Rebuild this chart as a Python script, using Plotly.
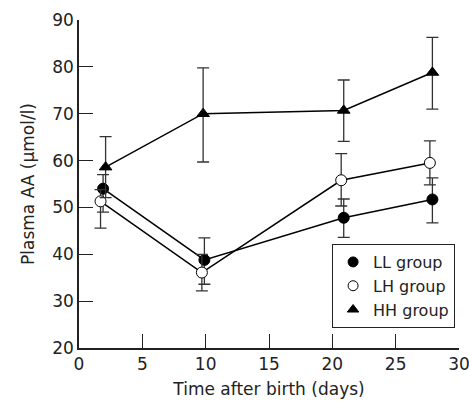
import plotly.graph_objects as go

# Data
days_ll = [1.9, 9.9, 20.9, 27.9]
ll_mean = [54.0, 38.8, 47.8, 51.7]
ll_err_plus = [3.0, 4.7, 4.0, 4.6]
ll_err_minus = [5.0, 5.2, 4.2, 5.0]

days_lh = [1.7, 9.7, 20.7, 27.7]
lh_mean = [51.3, 36.1, 55.8, 59.5]
lh_err_plus = [2.5, 3.9, 5.7, 4.7]
lh_err_minus = [5.7, 3.9, 5.5, 4.7]

days_hh = [2.1, 9.8, 20.9, 27.9]
hh_mean = [58.6, 70.0, 70.7, 78.8]
hh_err_plus = [6.5, 9.8, 6.5, 7.5]
hh_err_minus = [6.5, 10.3, 6.6, 7.8]

group_names = ["LL group", "LH group", "HH group"]
x_ticks = [0, 5, 10, 15, 20, 25, 30]
y_ticks = [20, 30, 40, 50, 60, 70, 80, 90]

FONT = "DejaVu Sans"
fig = go.Figure()

series = [
    (days_ll, ll_mean, ll_err_plus, ll_err_minus, "circle", "black"),
    (days_lh, lh_mean, lh_err_plus, lh_err_minus, "circle", "white"),
    (days_hh, hh_mean, hh_err_plus, hh_err_minus, "triangle-up", "black"),
]

for (xs, ys, ep, em, sym, fill), name in zip(series, group_names):
    fig.add_trace(go.Scatter(
        x=xs, y=ys, mode="lines+markers", showlegend=False, cliponaxis=False,
        line=dict(color="black", width=1.5),
        marker=dict(symbol=sym, size=11, color=fill, line=dict(color="black", width=1)),
        error_y=dict(type="data", array=ep, arrayminus=em, symmetric=False,
                     color="#333", thickness=1.3, width=6),
    ))

for (xs, ys, ep, em, sym, fill), name in zip(series, group_names):
    fig.add_trace(go.Scatter(
        x=[None], y=[None], mode="markers", name=name,
        marker=dict(symbol=sym, size=10, color=fill, line=dict(color="black", width=1)),
    ))

fig.update_layout(
    width=469, height=402,
    margin=dict(l=79, r=10, t=20, b=54),
    paper_bgcolor="white", plot_bgcolor="white",
    font=dict(family=FONT, size=16, color="#222"),
    legend=dict(x=0.666, y=0.317, xanchor="left", yanchor="top",
                bordercolor="#222", borderwidth=1, bgcolor="white",
                font=dict(size=16), itemwidth=30, tracegroupgap=0),
    xaxis=dict(range=[0, 30], tickvals=x_ticks, ticks="inside", ticklen=14,
               tickcolor="#222", showline=True, linecolor="#222", linewidth=1.5,
               showgrid=False, zeroline=False, automargin=False,
               tickfont=dict(size=17), ticklabeloverflow="allow",
               title=dict(text="Time after birth (days)", standoff=10, font=dict(size=17))),
    yaxis=dict(range=[20, 90], tickvals=y_ticks, ticks="inside", ticklen=14,
               tickcolor="#222", showline=True, linecolor="#222", linewidth=1.5,
               showgrid=False, zeroline=False, automargin=False,
               tickfont=dict(size=17), ticklabeloverflow="allow",
               title=dict(text="Plasma AA (μmol/l)", standoff=13, font=dict(size=17))),
)

fig.write_html("out.html", config={"displayModeBar": False},
               post_script="document.body.style.margin='0';document.body.style.padding='0';")
